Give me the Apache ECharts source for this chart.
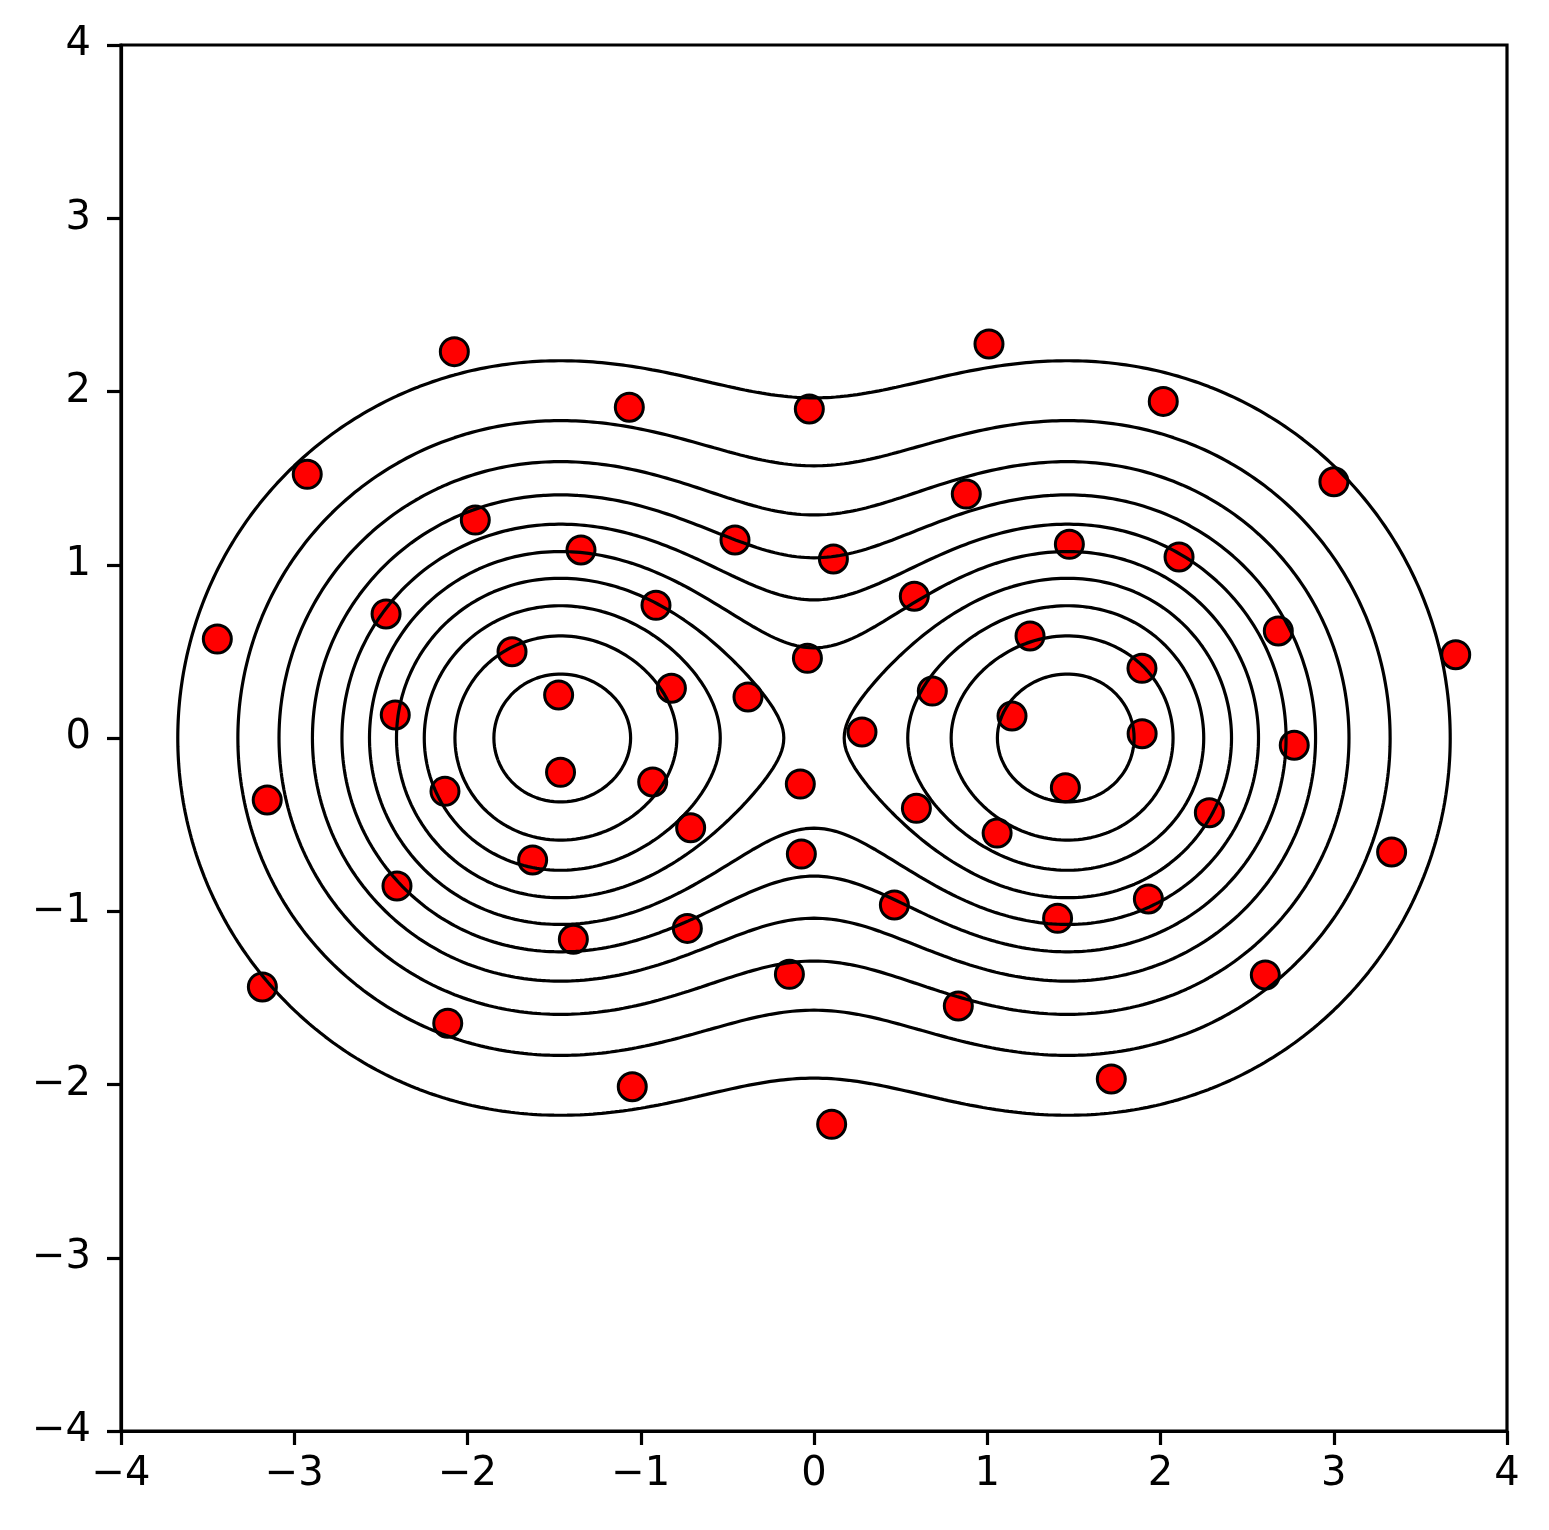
<!DOCTYPE html>
<html>
<head>
<meta charset="utf-8">
<script src="https://cdn.jsdelivr.net/npm/echarts@6/dist/echarts.min.js"></script>
<style>
html,body{margin:0;padding:0;background:#ffffff;}
#chart{width:1549px;height:1530px;}
</style>
</head>
<body>
<div id="chart"></div>
<script>
// ---- data ----
const xTicks = [-4, -3, -2, -1, 0, 1, 2, 3, 4];
const yTicks = [-4, -3, -2, -1, 0, 1, 2, 3, 4];

const pointsX = [-2.076, -2.925, -1.955, -3.444, -2.470, -1.743, -2.417, -1.474, 1.010, -1.066,
  -0.027, 0.879, -1.345, -0.456, 0.112, -0.912, 0.579, -0.038, -0.823, -0.381,
  0.683, 0.277, 2.016, 3.001, 1.474, 2.107, 2.680, 3.704, 1.247, 1.893,
  1.143, 1.894, -1.463, -2.130, -3.156, -1.624, -2.407, -3.184, -2.114, -0.931,
  -0.712, -0.079, -0.073, 0.591, 1.057, -1.389, -0.731, 0.464, -0.142, 0.833,
  -1.049, 0.102, 1.451, 2.772, 2.282, 3.334, 1.930, 1.406, 2.605, 1.716];
const pointsY = [2.230, 1.522, 1.258, 0.571, 0.716, 0.498, 0.133, 0.248, 2.274, 1.909,
  1.899, 1.408, 1.085, 1.143, 1.033, 0.766, 0.818, 0.460, 0.287, 0.237,
  0.271, 0.035, 1.943, 1.479, 1.118, 1.045, 0.618, 0.481, 0.589, 0.402,
  0.127, 0.025, -0.198, -0.308, -0.358, -0.704, -0.854, -1.437, -1.647, -0.254,
  -0.518, -0.266, -0.670, -0.406, -0.549, -1.162, -1.099, -0.964, -1.364, -1.547,
  -2.013, -2.230, -0.287, -0.042, -0.431, -0.658, -0.929, -1.041, -1.368, -1.968];

// two-peak field underlying the contour lines
const peakCentersX = [-1.5, 1.5];
const peakCentersY = [0, 0];
const peakSigma = [1.0, 1.0];
// contour levels (read from where each ring crosses the x axis)
const contourLevels = [0.0945, 0.189, 0.2835, 0.378, 0.4725, 0.567, 0.6615, 0.756, 0.8505, 0.945];

// ---- contour tracing (marching squares) ----
function field(x, y) {
  let s = 0;
  for (let k = 0; k < peakCentersX.length; k++) {
    const dx = x - peakCentersX[k], dy = y - peakCentersY[k];
    s += Math.exp(-(dx * dx + dy * dy) / (2 * peakSigma[k] * peakSigma[k]));
  }
  return s;
}
const GN = 320, G0 = -4, G1 = 4, GS = (G1 - G0) / GN;
const V = [];
for (let i = 0; i <= GN; i++) {
  V.push([]);
  for (let j = 0; j <= GN; j++) V[i].push(field(G0 + i * GS, G0 + j * GS));
}
function traceLevel(level) {
  const adj = new Map(), pts = new Map();
  function node(t, i, j) {
    const k = t + i + ',' + j;
    if (!pts.has(k)) {
      let p;
      if (t === 'h') { const a = V[i][j], b = V[i + 1][j]; const f = (level - a) / (b - a); p = [G0 + (i + f) * GS, G0 + j * GS]; }
      else { const a = V[i][j], b = V[i][j + 1]; const f = (level - a) / (b - a); p = [G0 + i * GS, G0 + (j + f) * GS]; }
      pts.set(k, p); adj.set(k, []);
    }
    return k;
  }
  function link(a, b) { adj.get(a).push(b); adj.get(b).push(a); }
  for (let i = 0; i < GN; i++) {
    for (let j = 0; j < GN; j++) {
      const a = V[i][j] >= level, b = V[i + 1][j] >= level, c = V[i + 1][j + 1] >= level, d = V[i][j + 1] >= level;
      const e = [];
      if (a !== b) e.push(node('h', i, j));
      if (b !== c) e.push(node('v', i + 1, j));
      if (c !== d) e.push(node('h', i, j + 1));
      if (d !== a) e.push(node('v', i, j));
      if (e.length === 2) link(e[0], e[1]);
      else if (e.length === 4) {
        const ctr = (V[i][j] + V[i + 1][j] + V[i + 1][j + 1] + V[i][j + 1]) / 4 >= level;
        if (ctr === a) { link(e[0], e[1]); link(e[2], e[3]); }
        else { link(e[0], e[3]); link(e[1], e[2]); }
      }
    }
  }
  const keys = [...adj.keys()];
  const order = keys.filter(k => adj.get(k).length === 1).concat(keys);
  const seen = new Set(), out = [];
  for (const s of order) {
    if (seen.has(s)) continue;
    const path = [s]; seen.add(s); let cur = s;
    while (true) {
      const nb = adj.get(cur).find(n => !seen.has(n));
      if (nb === undefined) { if (path.length > 2 && adj.get(cur).includes(s)) path.push(s); break; }
      seen.add(nb); path.push(nb); cur = nb;
    }
    out.push(path.map(k => pts.get(k)));
  }
  return out;
}

// ---- chart ----
const FONT = 'DejaVu Sans';
const fmt = v => String(v).replace('-', '\u2212');
const series = [];
series.push({
  type: 'scatter',
  data: pointsX.map((x, i) => [x, pointsY[i]]),
  symbol: 'circle',
  symbolSize: 28,
  itemStyle: { color: '#ff0000', borderColor: '#000000', borderWidth: 3, opacity: 1 },
  z: 2,
  silent: true
});
contourLevels.forEach(level => {
  traceLevel(level).forEach(path => {
    series.push({
      type: 'line',
      data: path,
      showSymbol: false,
      symbol: 'none',
      smooth: false,
      clip: true,
      lineStyle: { color: '#000000', width: 3.2 },
      z: 3,
      silent: true
    });
  });
});

const chart = echarts.init(document.getElementById('chart'), null, { renderer: 'canvas' });
chart.setOption({
  animation: false,
  backgroundColor: '#ffffff',
  grid: { left: 121, top: 45, width: 1386, height: 1386, show: true, borderColor: '#000000', borderWidth: 3.2, backgroundColor: 'transparent' },
  xAxis: {
    type: 'value', min: xTicks[0], max: xTicks[xTicks.length - 1], interval: 1,
    splitLine: { show: false },
    axisLine: { show: true, onZero: false, lineStyle: { color: '#000', width: 3.2 } },
    axisTick: { show: true, inside: false, length: 14, lineStyle: { color: '#000', width: 3.2 } },
    axisLabel: { show: true, margin: 24, color: '#000', fontFamily: FONT, fontSize: 40, formatter: fmt }
  },
  yAxis: {
    type: 'value', min: yTicks[0], max: yTicks[yTicks.length - 1], interval: 1,
    splitLine: { show: false },
    axisLine: { show: true, onZero: false, lineStyle: { color: '#000', width: 3.2 } },
    axisTick: { show: true, inside: false, length: 14, lineStyle: { color: '#000', width: 3.2 } },
    axisLabel: { show: true, margin: 30, color: '#000', fontFamily: FONT, fontSize: 40, formatter: fmt }
  },
  series: series
});
</script>
</body>
</html>
